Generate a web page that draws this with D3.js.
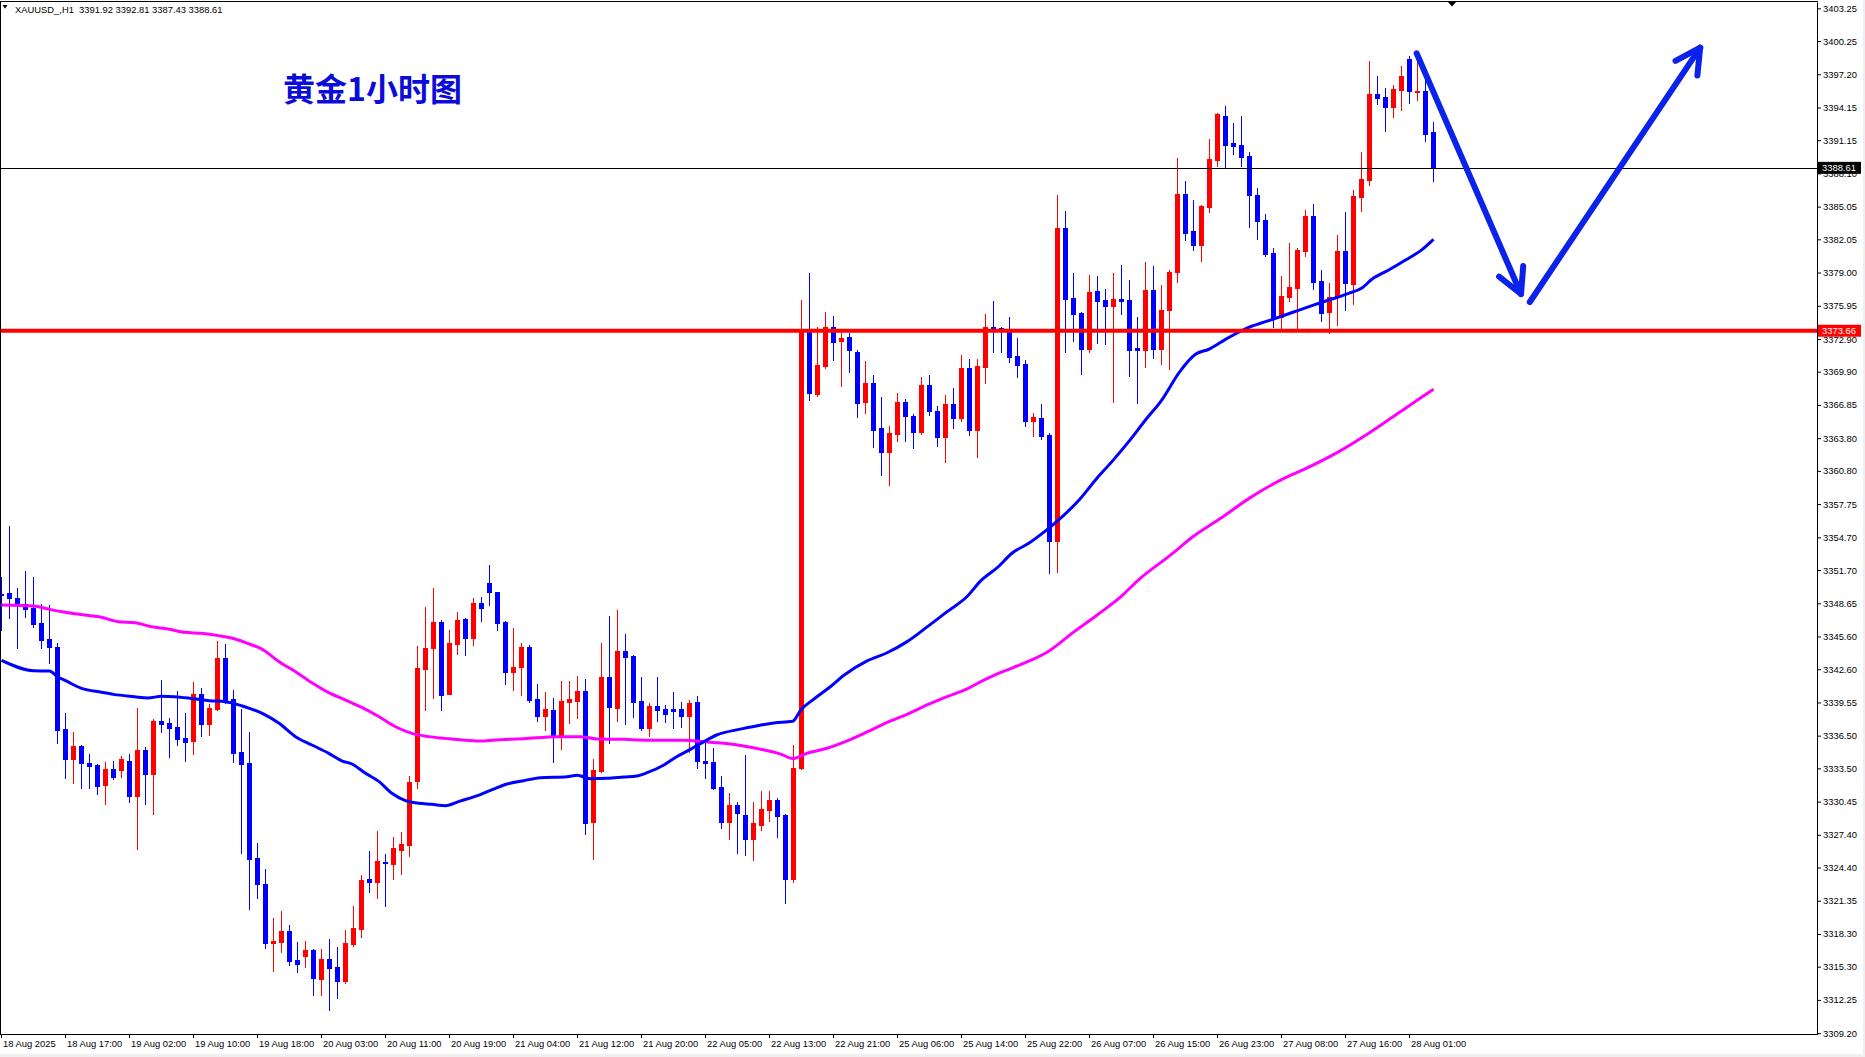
<!DOCTYPE html>
<html><head><meta charset="utf-8">
<script src="https://cdn.jsdelivr.net/npm/d3@7"></script>
<style>
html,body{margin:0;padding:0;background:#fff;overflow:hidden;}
svg{display:block;}
</style></head><body>
<svg id="chart" width="1865" height="1057"></svg>
<script>
// ---------- DATA ----------
const opens = [3349.53,3349.59,3349.13,3348.55,3348.25,3346.87,3345.37,3344.64,3337.11,3334.39,
3335.55,3334.02,3333.81,3331.97,3333.44,3333.38,3334.17,3330.99,3335.18,3333.01,
3337.85,3337.66,3337.29,3336.29,3336.04,3340.32,3337.60,3338.98,3343.63,3339.86,
3335.00,3334.02,3325.24,3322.89,3317.44,3317.59,3318.57,3315.91,3316.31,3316.83,
3314.20,3316.00,3315.27,3313.99,3317.41,3318.76,3323.35,3323.10,3324.91,3324.75,
3326.04,3326.50,3332.37,3342.65,3344.57,3346.93,3340.35,3344.94,3347.21,3345.49,
3348.67,3350.51,3349.68,3346.93,3342.37,3342.83,3344.64,3339.86,3338.33,3338.85,
3336.59,3339.62,3339.71,3340.60,3328.61,3333.29,3341.88,3339.07,3344.27,3343.81,
3339.68,3337.23,3339.22,3338.95,3338.95,3338.95,3338.33,3339.59,3334.17,3334.08,
3331.79,3328.61,3330.14,3329.24,3327.06,3328.34,3329.69,3330.63,3329.24,3323.33,
3333.57,3373.55,3367.83,3370.47,3373.97,3372.72,3373.06,3371.75,3367.08,3368.88,
3364.74,3362.56,3364.14,3367.15,3365.87,3364.33,3368.70,3366.32,3363.95,3366.96,
3365.61,3370.20,3364.52,3370.32,3373.97,3373.95,3373.73,3371.35,3370.61,3365.41,
3365.66,3364.10,3354.40,3383.09,3376.67,3375.29,3372.02,3377.31,3376.48,3375.96,
3376.58,3376.48,3372.08,3371.93,3377.40,3372.02,3375.57,3379.05,3386.21,3382.85,
3381.56,3385.05,3389.33,3393.37,3390.89,3390.70,3389.69,3386.12,3383.82,3380.76,
3374.95,3376.79,3377.61,3381.01,3384.19,3378.22,3375.41,3376.79,3381.01,3377.98,
3385.96,3387.52,3395.38,3395.11,3394.22,3395.78,3398.60,3395.60,3395.66,3391.92];

const highs = [3351.09,3355.74,3350.08,3351.61,3351.09,3348.58,3348.49,3344.97,3338.58,3336.84,
3335.64,3334.82,3333.93,3334.08,3334.17,3334.63,3334.82,3339.07,3335.46,3338.03,
3341.64,3338.15,3340.60,3338.58,3341.42,3340.87,3339.41,3345.19,3344.91,3340.69,
3338.95,3336.84,3326.62,3324.23,3319.74,3320.41,3319.12,3317.56,3317.66,3316.90,
3316.92,3317.84,3317.14,3318.67,3320.87,3323.71,3325.91,3327.75,3325.64,3327.20,
3327.66,3332.80,3344.73,3348.31,3350.05,3347.11,3346.20,3347.85,3347.30,3349.13,
3349.22,3352.16,3349.71,3347.00,3346.38,3345.00,3344.82,3341.24,3340.51,3339.96,
3341.52,3341.52,3341.97,3341.70,3334.36,3345.00,3347.48,3348.03,3345.83,3343.90,
3341.88,3339.50,3341.88,3339.31,3340.51,3339.59,3339.77,3340.14,3336.10,3335.37,
3332.80,3331.24,3330.41,3334.70,3330.37,3331.39,3331.39,3330.82,3329.30,3335.64,
3376.49,3378.94,3374.04,3375.36,3374.98,3373.48,3373.48,3371.86,3370.92,3369.60,
3367.60,3364.93,3367.98,3367.42,3365.99,3369.37,3369.64,3366.78,3367.72,3368.39,
3371.41,3371.03,3371.11,3375.17,3376.38,3374.04,3374.95,3373.00,3370.98,3366.15,
3366.94,3364.25,3386.12,3384.65,3378.96,3375.38,3378.78,3378.69,3377.49,3378.96,
3379.70,3378.32,3374.92,3379.97,3379.60,3377.86,3379.24,3389.52,3387.41,3385.66,
3385.20,3391.30,3393.67,3394.28,3392.72,3393.37,3390.06,3386.76,3384.37,3381.28,
3378.68,3381.71,3381.25,3384.74,3385.29,3379.23,3378.04,3382.44,3384.56,3386.57,
3390.06,3398.41,3397.04,3395.93,3396.21,3397.95,3398.87,3398.50,3396.73,3392.81];

const lows = [3346.20,3347.27,3344.58,3347.42,3346.50,3344.51,3343.14,3335.86,3332.58,3332.19,
3331.67,3331.67,3331.18,3330.26,3332.49,3332.74,3330.44,3326.07,3330.26,3329.34,
3336.87,3334.57,3335.64,3334.20,3334.79,3336.50,3336.59,3338.85,3339.53,3334.11,
3325.76,3320.62,3321.63,3317.04,3314.93,3316.68,3315.45,3314.84,3315.30,3312.70,
3312.70,3311.32,3312.46,3313.83,3317.23,3318.05,3322.18,3321.63,3320.90,3323.38,
3323.83,3325.49,3331.73,3338.89,3339.99,3338.89,3340.30,3344.02,3343.93,3344.85,
3347.05,3348.52,3346.20,3341.27,3340.72,3340.26,3339.62,3337.88,3337.05,3334.11,
3335.31,3337.69,3338.15,3327.51,3325.21,3333.20,3335.86,3337.88,3337.60,3338.24,
3337.05,3336.50,3337.88,3337.78,3337.23,3337.32,3335.03,3333.56,3332.64,3331.63,
3328.06,3327.05,3325.76,3325.59,3325.10,3327.88,3328.67,3327.24,3321.14,3323.03,
3333.40,3367.34,3367.70,3370.28,3370.96,3368.55,3369.83,3365.72,3366.14,3363.01,
3360.38,3359.51,3363.58,3363.58,3362.86,3364.14,3365.91,3363.09,3361.62,3364.71,
3365.38,3364.07,3362.11,3368.85,3371.71,3371.68,3370.83,3369.45,3364.92,3364.00,
3363.70,3351.40,3351.55,3371.74,3372.75,3369.72,3371.74,3372.57,3372.48,3367.15,
3375.23,3369.54,3367.06,3370.37,3371.19,3370.64,3370.18,3378.17,3382.02,3381.10,
3380.09,3384.59,3388.78,3388.72,3389.91,3388.78,3383.21,3382.11,3380.55,3373.97,
3373.88,3376.42,3373.88,3380.55,3377.46,3374.58,3373.48,3374.22,3375.59,3376.14,
3384.68,3387.06,3394.50,3392.02,3393.30,3393.95,3394.59,3394.86,3391.10,3387.43];

const closes = [3349.41,3349.16,3348.61,3348.12,3346.78,3345.28,3344.67,3337.05,3334.39,3335.58,
3334.02,3333.75,3331.91,3333.44,3332.74,3334.39,3330.99,3335.18,3333.01,3337.85,
3337.60,3337.23,3336.19,3335.95,3340.32,3337.60,3339.04,3343.63,3339.62,3334.94,
3333.93,3325.15,3322.86,3317.44,3317.66,3318.57,3315.85,3315.58,3316.83,3314.29,
3316.00,3315.21,3314.02,3317.47,3318.85,3323.25,3323.10,3325.00,3324.78,3326.19,
3326.56,3332.25,3342.71,3344.54,3346.93,3340.26,3345.00,3347.11,3345.49,3348.67,
3348.25,3349.71,3346.87,3342.37,3342.80,3344.64,3339.80,3338.33,3338.95,3336.59,
3339.68,3339.86,3340.60,3328.52,3333.35,3341.88,3339.16,3344.27,3343.75,3339.62,
3337.23,3339.22,3338.89,3338.52,3338.79,3338.33,3339.50,3334.20,3334.02,3331.73,
3328.61,3330.14,3329.43,3327.06,3328.49,3329.80,3330.63,3329.16,3323.33,3333.57,
3373.67,3367.91,3370.54,3373.97,3372.61,3372.95,3371.90,3367.00,3368.88,3364.59,
3362.56,3364.29,3367.15,3365.80,3364.33,3368.70,3366.25,3363.95,3366.96,3365.61,
3370.20,3364.52,3370.39,3373.97,3373.82,3373.73,3371.28,3370.55,3365.41,3365.75,
3364.03,3354.40,3383.09,3376.61,3375.23,3372.02,3377.22,3376.42,3375.96,3376.58,
3376.42,3371.93,3371.93,3377.40,3372.02,3375.57,3379.05,3386.21,3382.66,3381.56,
3385.14,3389.42,3393.55,3390.70,3390.64,3389.63,3386.15,3383.76,3380.73,3374.86,
3376.85,3377.67,3381.07,3384.19,3378.16,3375.32,3376.76,3381.01,3378.07,3386.02,
3387.58,3395.38,3395.05,3394.22,3395.84,3397.04,3395.69,3395.66,3391.74,3388.61];

// moving averages, read at bar positions
const blueMaBars = [0,4,6,7,8,10,12.5,14,16.6,18.3,20,21.6,24,26,28,30,31,32.6,34.7,36.75,38.8,40.9,42.6,43.8,45.5,47.2,48.8,50.5,52.2,53.8,55.5,57.2,59.7,61.75,63.2,65.3,67.35,70.7,72,73.6,75.7,77.8,79.4,80.7,82.8,84.4,86.1,87.8,89.4,92.35,94.5,96.6,98.9,99.9,101.6,103.6,105.3,108.2,110.7,113.2,115.7,118.2,120.7,122.4,124.6,126.3,128.4,130.5,132.6,134.7,136.75,138.8,140.9,143,145.1,147.2,149.25,150.9,153,155.9,158,160.1,162.2,164.25,166.3,168.4,170.1,171.3,173.4,175.5,177.6,179];
const blueMaValues = [3343.41,3342.46,3342.43,3341.91,3341.55,3340.84,3340.48,3340.29,3340.08,3339.96,3340.11,3340.08,3339.89,3339.71,3339.62,3339.25,3339.01,3338.55,3337.63,3336.41,3335.64,3334.88,3334.17,3333.90,3333.04,3332.28,3331.21,3330.53,3330.29,3330.20,3330.07,3330.47,3331.05,3331.67,3332.06,3332.37,3332.64,3332.73,3332.86,3332.55,3332.58,3332.71,3332.80,3333.10,3333.81,3334.57,3335.24,3335.95,3336.56,3337.10,3337.41,3337.67,3337.82,3338.84,3339.89,3340.99,3342.04,3343.36,3344.11,3345.13,3346.48,3347.88,3349.27,3350.70,3352.00,3353.24,3354.15,3355.29,3356.60,3358.13,3359.97,3361.65,3363.48,3365.47,3367.37,3369.82,3371.50,3371.96,3372.87,3373.97,3374.49,3375.01,3375.56,3376.08,3376.57,3377.09,3377.61,3378.38,3379.23,3380.15,3381.13,3382.05];

const magentaMaBars = [0,4,6,8,10.4,12.5,14.6,16.7,18.75,20.8,22.9,25,27.1,29.2,30.8,32.6,34.7,36.75,38.8,40.9,43,45.1,47.2,49.25,51.3,53.4,55.5,57.6,59.7,61.75,65.3,69.4,72.35,74.4,77.8,79.85,82,85.3,87.8,90.3,92.4,94.9,97.4,98.9,100.7,103.2,105.7,108.2,110.7,113.2,115.7,118.2,120.7,122.8,124.9,128,131,134,137,140,142.2,146,149,152.4,156,160,163,167,171,175,179];
const magentaMaValues = [3348.49,3348.40,3348.09,3347.82,3347.57,3347.36,3346.96,3346.87,3346.50,3346.29,3345.98,3345.89,3345.68,3345.37,3344.96,3344.42,3343.29,3342.37,3341.36,3340.45,3339.77,3339.07,3338.24,3337.32,3336.71,3336.41,3336.25,3336.10,3336.01,3336.10,3336.22,3336.41,3336.41,3336.19,3336.16,3336.10,3336.07,3336.07,3335.95,3335.80,3335.60,3335.26,3334.81,3334.40,3334.89,3335.34,3336.02,3336.84,3337.71,3338.46,3339.33,3340.08,3340.80,3341.59,3342.30,3343.20,3344.30,3346.00,3347.60,3349.30,3350.85,3353.00,3354.80,3356.45,3358.30,3360.00,3361.00,3362.50,3364.30,3366.30,3368.30];

const xTickLabels = ["18 Aug 2025","18 Aug 17:00","19 Aug 02:00","19 Aug 10:00","19 Aug 18:00","20 Aug 03:00","20 Aug 11:00","20 Aug 19:00","21 Aug 04:00","21 Aug 12:00","21 Aug 20:00","22 Aug 05:00","22 Aug 13:00","22 Aug 21:00","25 Aug 06:00","25 Aug 14:00","25 Aug 22:00","26 Aug 07:00","26 Aug 15:00","26 Aug 23:00","27 Aug 08:00","27 Aug 16:00","28 Aug 01:00"];
const xTickBars = [0,8,16,24,32,40,48,56,64,72,80,88,96,104,112,120,128,136,144,152,160,168,176];
const yTickValues = [3403.25,3400.25,3397.20,3394.15,3391.15,3388.10,3385.05,3382.05,3379.00,3375.95,3372.90,3369.90,3366.85,3363.80,3360.80,3357.75,3354.70,3351.70,3348.65,3345.60,3342.60,3339.55,3336.50,3333.50,3330.45,3327.40,3324.40,3321.35,3318.30,3315.30,3312.25,3309.20];

const currentPrice = 3388.61;
const supportPrice = 3373.66;
const arrowDown = [[176.96, 3399.12],[190.0, 3377.03]];
const arrowUp = [[191.1, 3376.30],[212.4, 3399.64]];
const headerText = "XAUUSD_,H1  3391.92 3392.81 3387.43 3388.61";
const titleText = "黄金1小时图";

// ---------- DRAWING ----------
const svg = d3.select("#chart");
const PR = 1817, PB = 1034, PT = 2;
const x = d3.scaleLinear().domain([0, 227]).range([1, 1817]);
const y = d3.scaleLinear().domain([3309.12, 3403.83]).range([1034, 2]);
const FONT = "'Liberation Sans', Arial, sans-serif";
const UP = "#ff0000", DOWN = "#0000ff";

svg.append("rect").attr("width",1865).attr("height",1057).attr("fill","#ffffff");
svg.append("rect").attr("x",1863).attr("y",0).attr("width",2).attr("height",1057).attr("fill","#f0f0f0");
svg.append("rect").attr("x",0).attr("y",1054).attr("width",1865).attr("height",3).attr("fill","#f0f0f0");

svg.append("defs").append("clipPath").attr("id","plotclip")
  .append("rect").attr("x",0).attr("y",PT).attr("width",PR).attr("height",PB-PT);

const plot = svg.append("g").attr("clip-path","url(#plotclip)");

// candles
const bars = d3.range(opens.length).map(i => ({i, o:opens[i], h:highs[i], l:lows[i], c:closes[i]}));
const cg = plot.append("g").attr("shape-rendering","crispEdges");
bars.forEach(d => {
  const cx = Math.round(x(d.i));
  const col = d.c >= d.o ? UP : DOWN;
  const yh = Math.round(y(d.h)), yl = Math.round(y(d.l));
  cg.append("rect").attr("x",cx).attr("y",yh).attr("width",1).attr("height",Math.max(1,yl-yh+1)).attr("fill",col);
  const yt = Math.round(y(Math.max(d.o,d.c))), yb = Math.round(y(Math.min(d.o,d.c)));
  cg.append("rect").attr("x",cx-2).attr("y",yt).attr("width",5).attr("height",Math.max(1,yb-yt+1)).attr("fill",col);
});

// moving averages
const line = d3.line().x(d => x(d[0]) + 0.5).y(d => y(d[1])).curve(d3.curveMonotoneX);
plot.append("path").datum(magentaMaBars.map((b,k)=>[b,magentaMaValues[k]]))
  .attr("d",line).attr("fill","none").attr("stroke","#ff00ff").attr("stroke-width",3);
plot.append("path").datum(blueMaBars.map((b,k)=>[b,blueMaValues[k]]))
  .attr("d",line).attr("fill","none").attr("stroke","#0000ff").attr("stroke-width",3);

// horizontal lines
plot.append("line").attr("x1",0).attr("x2",PR).attr("y1",Math.round(y(currentPrice))+0.5).attr("y2",Math.round(y(currentPrice))+0.5)
  .attr("stroke","#000").attr("stroke-width",1);
plot.append("line").attr("x1",0).attr("x2",PR).attr("y1",y(supportPrice)).attr("y2",y(supportPrice))
  .attr("stroke","#ff0000").attr("stroke-width",4);

// arrows
const ARROW = "#0a22ea";
function drawArrow(pts){
  const p1=[x(pts[0][0]), y(pts[0][1])], p2=[x(pts[1][0]), y(pts[1][1])];
  const ang = Math.atan2(p2[1]-p1[1], p2[0]-p1[0]);
  const L = 28, sp = 28*Math.PI/180;
  const b1=[p2[0]-L*Math.cos(ang-sp), p2[1]-L*Math.sin(ang-sp)];
  const b2=[p2[0]-L*Math.cos(ang+sp), p2[1]-L*Math.sin(ang+sp)];
  const g = plot.append("g").attr("fill","none").attr("stroke",ARROW).attr("stroke-width",6)
    .attr("stroke-linecap","round").attr("stroke-linejoin","round");
  g.append("path").attr("d",d3.line()([p1,p2]));
  g.append("path").attr("d",d3.line()([b1,p2,b2]));
}
drawArrow(arrowDown);
drawArrow(arrowUp);

// frame
svg.append("path").attr("d",`M0.5,${PB+0.5} V${PT-0.5} H${PR+0.5}`).attr("fill","none").attr("stroke","#000").attr("stroke-width",1).attr("shape-rendering","crispEdges");

// y axis
const yAxis = d3.axisRight(y).tickValues(yTickValues).tickFormat(d => d.toFixed(2)).tickSize(4).tickSizeOuter(0).tickPadding(2);
const yg = svg.append("g").attr("transform",`translate(${PR},0)`).call(yAxis);
yg.attr("font-family",FONT).attr("font-size",9.4);
yg.select(".domain").attr("stroke","#000");
yg.selectAll("line").attr("stroke","#000");
yg.selectAll("text").attr("fill","#000");

// x axis
const xAxis = d3.axisBottom(x).tickValues(xTickBars).tickFormat((d,k) => xTickLabels[k]).tickSize(4).tickSizeOuter(0).tickPadding(2);
const xg = svg.append("g").attr("transform",`translate(0,${PB})`).call(xAxis);
xg.attr("font-family",FONT).attr("font-size",9.4);
xg.select(".domain").remove();
xg.selectAll("line").attr("stroke","#000");
xg.selectAll("text").attr("fill","#000").attr("text-anchor","start").attr("x",1.5);
svg.append("line").attr("x1",0).attr("x2",PR+1).attr("y1",PB+0.5).attr("y2",PB+0.5).attr("stroke","#000").attr("shape-rendering","crispEdges");

// price tags (drawn over the tick labels, as in the reference)
function tag(price, fill){
  const yy = y(price);
  svg.append("rect").attr("x",1818).attr("y",yy-6).attr("width",43).attr("height",12).attr("fill",fill);
  svg.append("text").attr("x",1822).attr("y",yy).attr("dy","0.34em").attr("font-family",FONT).attr("font-size",9.4)
    .attr("fill","#fff").text(price.toFixed(2));
}
tag(currentPrice, "#000000");
tag(supportPrice, "#ff0000");

// header
svg.append("path").attr("d","M2.5,5 L7.5,5 L5,8.8 Z").attr("fill","#000");
svg.append("text").attr("x",15).attr("y",13).attr("font-family",FONT).attr("font-size",9.4)
  .attr("fill","#000").style("white-space","pre").text(headerText);
// chart shift marker
svg.append("path").attr("d","M1448,2 L1456,2 L1452,6.5 Z").attr("fill","#000");

// title
svg.append("text").attr("x",283).attr("y",101).attr("font-family","'Noto Sans CJK SC', sans-serif")
  .attr("font-weight",700).attr("font-size",32).attr("fill","#0c0cd8").text(titleText);
</script>
</body></html>
